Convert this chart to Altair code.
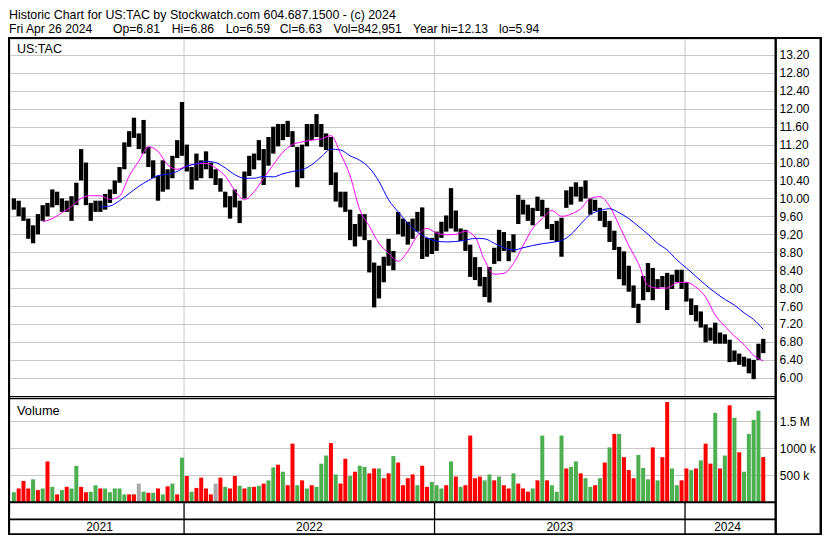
import altair as alt
import pandas as pd

FONT = "Liberation Sans"

HEADER_1 = "Historic Chart for US:TAC by Stockwatch.com 604.687.1500 - (c) 2024"
HEADER_2_ITEMS = ["Fri Apr 26 2024", "Op=6.81", "Hi=6.86", "Lo=6.59",
                  "Cl=6.63", "Vol=842,951", "Year hi=12.13", "lo=5.94"]
SYMBOL = "US:TAC"

# weekly price ranges (week centres, from late April 2021 to 26 April 2024)
week_high = [10.0, 9.95, 9.8, 9.55, 9.4, 9.65, 9.85, 9.9, 10.2, 10.15,
             10.0, 9.95, 10.05, 10.35, 11.1, 10.8, 9.9, 9.95, 9.95, 10.1,
             10.2, 10.4, 10.7, 11.25, 11.5, 11.8, 11.45, 11.75, 11.15, 10.85,
             10.5, 10.85, 10.65, 10.95, 11.3, 12.15, 11.2, 10.7, 11.0, 10.85,
             11.05, 10.8, 10.65, 10.45, 10.15, 10.05, 10.2, 9.95, 10.6, 10.95,
             11.0, 11.3, 11.1, 11.37, 11.6, 11.66, 11.66, 11.73, 11.5, 11.15,
             11.2, 11.66, 11.66, 11.88, 11.66, 11.45, 11.37, 10.58, 10.15, 10.15,
             9.75, 9.43, 9.65, 9.65, 9.07, 8.57, 8.5, 8.7, 9.1, 8.83,
             9.7, 9.55, 9.48, 9.55, 9.7, 9.8, 9.12, 9.12, 9.26, 9.48,
             9.62, 10.23, 9.73, 9.33, 9.3, 8.97, 8.69, 8.47, 8.25, 8.47,
             8.9, 9.3, 9.25, 9.05, 9.2, 10.08, 9.97, 9.86, 9.79, 10.04,
             9.97, 9.79, 9.43, 9.5, 9.57, 10.18, 10.26, 10.36, 10.26, 10.4,
             10.0, 9.97, 9.79, 9.72, 9.5, 9.28, 8.92, 8.82, 8.5, 8.06,
             7.65, 8.27, 8.56, 8.45, 8.2, 8.27, 8.34, 8.3, 8.41, 8.41,
             8.13, 7.77, 7.62, 7.48, 7.19, 7.12, 7.23, 7.01, 6.97, 6.85,
             6.61, 6.54, 6.47, 6.43, 6.4, 6.76, 6.87]
week_low = [9.75, 9.6, 9.5, 9.1, 9.0, 9.2, 9.5, 9.6, 9.8, 9.85,
            9.7, 9.7, 9.5, 9.85, 10.4, 9.85, 9.5, 9.7, 9.7, 9.75,
            9.9, 10.1, 10.35, 10.65, 11.15, 11.35, 11.1, 11.0, 10.7, 10.45,
            9.95, 10.15, 10.2, 10.45, 10.9, 10.95, 10.6, 10.2, 10.4, 10.45,
            10.65, 10.45, 10.3, 10.15, 9.8, 9.55, 9.8, 9.45, 10.0, 10.5,
            10.65, 10.85, 10.3, 10.73, 11.0, 11.16, 11.3, 11.37, 11.15, 10.25,
            10.45, 11.16, 11.3, 11.37, 11.15, 11.08, 10.3, 9.93, 9.8, 9.7,
            9.07, 8.93, 9.15, 9.07, 8.35, 7.57, 7.77, 8.13, 8.5, 8.4,
            9.2, 9.15, 8.97, 9.1, 9.26, 8.65, 8.7, 8.76, 8.83, 9.12,
            9.26, 9.33, 9.26, 9.05, 8.83, 8.25, 8.18, 8.04, 7.8, 7.68,
            8.54, 8.6, 8.83, 8.6, 8.8, 9.43, 9.64, 9.5, 9.4, 9.72,
            9.6, 9.32, 9.07, 9.03, 8.7, 9.79, 9.86, 10.04, 9.93, 10.0,
            9.64, 9.72, 9.5, 9.36, 9.03, 8.85, 8.2, 8.06, 7.92, 7.56,
            7.22, 7.73, 7.91, 7.73, 7.98, 8.02, 7.51, 7.98, 8.13, 7.98,
            7.7, 7.4, 7.26, 7.12, 6.79, 6.83, 6.76, 6.76, 6.76, 6.35,
            6.36, 6.29, 6.25, 6.1, 5.97, 6.4, 6.55]

# moving averages, read every second week
pink_ma = [9.48, 9.55, 9.68, 9.82, 10.0, 10.06, 10.06, 9.98, 10.05, 10.5,
           10.83, 11.15, 11.05, 10.75, 10.65, 10.72, 10.77, 10.78, 10.68, 10.5,
           10.18, 9.97, 10.15, 10.45, 10.75, 11.03, 11.2, 11.26, 11.3, 11.33,
           11.4, 11.0, 10.5, 9.75, 9.38, 9.0, 8.78, 8.6, 8.82, 9.17,
           9.33, 9.23, 9.19, 9.2, 9.27, 9.14, 8.62, 8.31, 8.33, 8.55,
           8.95, 9.33, 9.55, 9.73, 9.6, 9.65, 9.77, 10.0, 10.04, 9.83,
           9.4, 8.95, 8.55, 8.06, 8.0, 8.0, 8.12, 8.13, 8.02, 7.8,
           7.4, 7.15, 6.93, 6.74, 6.5, 6.38]
blue_ma = [9.81, 9.83, 9.95, 10.11, 10.27, 10.4, 10.51, 10.54, 10.6, 10.72,
           10.77, 10.83, 10.8, 10.68, 10.53, 10.45, 10.45, 10.49, 10.48, 10.55,
           10.6, 10.64, 10.75, 10.93, 11.1, 11.08, 10.95, 10.85, 10.68, 10.38,
           9.97, 9.7, 9.45, 9.25, 9.12, 9.05, 9.03, 9.04, 9.07, 9.11,
           9.1, 9.0, 8.9, 8.85, 8.9, 8.95, 8.99, 9.02, 9.06, 9.2,
           9.43, 9.64, 9.73, 9.77, 9.68, 9.55, 9.38, 9.2, 9.0, 8.85,
           8.63, 8.45, 8.26, 8.07, 7.9, 7.75, 7.62, 7.45, 7.3, 7.08]

# volume (millions of shares) and direction: g = up, r = down, n = unchanged
volume_m = [0.19, 0.26, 0.40, 0.26, 0.43, 0.23, 0.26, 0.76, 0.29, 0.15,
            0.23, 0.29, 0.26, 0.68, 0.29, 0.19, 0.20, 0.32, 0.26, 0.26,
            0.19, 0.26, 0.26, 0.15, 0.15, 0.15, 0.35, 0.20, 0.18, 0.18,
            0.26, 0.15, 0.30, 0.35, 0.15, 0.83, 0.49, 0.20, 0.27, 0.46,
            0.26, 0.15, 0.35, 0.46, 0.29, 0.26, 0.49, 0.31, 0.26, 0.29,
            0.29, 0.31, 0.35, 0.41, 0.65, 0.70, 0.57, 0.32, 1.09, 0.32,
            0.41, 0.26, 0.32, 0.29, 0.72, 0.87, 1.10, 0.52, 0.35, 0.81,
            0.49, 0.57, 0.68, 0.66, 0.54, 0.63, 0.63, 0.45, 0.54, 0.86,
            0.74, 0.32, 0.45, 0.52, 0.32, 0.68, 0.29, 0.38, 0.32, 0.26,
            0.32, 0.76, 0.48, 0.29, 0.32, 1.24, 0.45, 0.48, 0.41, 0.52,
            0.41, 0.48, 0.32, 0.26, 0.54, 0.35, 0.26, 0.20, 0.26, 0.41,
            1.24, 0.41, 0.32, 0.20, 1.24, 0.63, 0.66, 0.76, 0.54, 0.45,
            0.29, 0.32, 0.45, 0.74, 1.02, 1.27, 1.27, 0.84, 0.60, 0.45,
            0.88, 0.64, 0.43, 1.02, 0.41, 0.84, 1.86, 0.63, 0.32, 0.41,
            0.63, 0.60, 0.63, 0.78, 1.09, 0.72, 1.66, 0.63, 0.87, 1.80,
            1.57, 0.93, 0.57, 1.27, 1.53, 1.70, 0.84]
volume_dir = ("grrrgrgrgr" "grggrrggrg" "ggggrrngrg" "rgrgrgrgrr" "rrnrgrrgrg"
              "rgrggrgrrg" "rgrgggrgrr" "grggrrgrrg" "rrrrgrrggg" "rgrgrrrrgg"
              "rgrrgrrrgr" "grgggrggrg" "grgrgrgrrr" "gggrgrrggr" "rgrgrrgrgr"
              "grggggr")

price_ticks = [6.0, 6.4, 6.8, 7.2, 7.6, 8.0, 8.4, 8.8, 9.2, 9.6,
               10.0, 10.4, 10.8, 11.2, 11.6, 12.0, 12.4, 12.8, 13.2]
vol_ticks = [0.5, 1.0, 1.5]
vol_tick_labels = ["500 k", "1000 k", "1.5 M"]
years = ["2021", "2022", "2023", "2024"]
year_starts = ["2022-01-01", "2023-01-01", "2024-01-01"]

# ---------------- tables ----------------
weeks = pd.date_range("2021-04-28", periods=len(week_high), freq="7D")
price_df = pd.DataFrame({"date": weeks.strftime("%Y-%m-%d"), "high": week_high, "low": week_low})
pink_df = pd.DataFrame({"date": weeks[6::2].strftime("%Y-%m-%d"), "ma": pink_ma})
blue_df = pd.DataFrame({"date": weeks[18::2].strftime("%Y-%m-%d"), "ma": blue_ma})
dir_name = {"g": "up", "r": "down", "n": "flat"}
vol_df = pd.DataFrame({"date": weeks.strftime("%Y-%m-%d"), "vol": volume_m,
                       "dir": [dir_name[c] for c in volume_dir]})
vtick_df = pd.DataFrame({"v": vol_ticks, "label": vol_tick_labels})

# ---------------- layout (plot area = panels, header outside) ----------------
W, H = 765, 496
PX_PER_DAY = (678.9 - 171.3) / 730.0
t_2022 = pd.Timestamp("2022-01-01")
t_2024 = pd.Timestamp("2024-01-01")
t0 = t_2022 - pd.Timedelta(days=171.3 / PX_PER_DAY)
t1 = t_2024 + pd.Timedelta(days=(W - 678.9) / PX_PER_DAY)
ms = lambda t: int(t.tz_localize("UTC").timestamp() * 1000)
X_SCALE = alt.Scale(type="utc", domain=[ms(t0), ms(t1)], nice=False)

bounds = [t0, pd.Timestamp(year_starts[0]), pd.Timestamp(year_starts[1]),
          pd.Timestamp(year_starts[2]), t1]
year_mid = [(bounds[k] + (bounds[k + 1] - bounds[k]) / 2).strftime("%Y-%m-%dT%H:%M:%S") for k in range(4)]
year_df = pd.DataFrame({"year": years, "mid": year_mid})
ystart_df = pd.DataFrame({"d": year_starts})

P_SCALE = alt.Scale(domain=[5.59, 13.555], range=[357.2, 0], nice=False, zero=False)
V_ZERO_PX, V_PX_PER_M, V_TOP_PX = 463.5, 54.0, 358.8
V_SCALE = alt.Scale(domain=[0, (V_ZERO_PX - V_TOP_PX) / V_PX_PER_M],
                    range=[V_ZERO_PX, V_TOP_PX], nice=False, zero=False)
GRID = "#c8c8c8"

xenc = lambda f: alt.X(f, type="temporal", scale=X_SCALE, axis=None)

# ---------------- price panel ----------------
price_axis = alt.Axis(orient="right", values=price_ticks, format=".2f", grid=True,
                      gridColor=GRID, gridWidth=1, domain=False, ticks=False,
                      labelPadding=4, labelFont=FONT, labelFontSize=12,
                      labelColor="black", labelBaseline="middle", title=None)
bars = alt.Chart(price_df).mark_bar(color="black", size=4.3, clip=True).encode(
    x=xenc("date"), y=alt.Y("low:Q", scale=P_SCALE, axis=price_axis), y2="high:Q")
pink = alt.Chart(pink_df).mark_line(color="#ff00ff", strokeWidth=1, interpolate="monotone").encode(
    x=xenc("date"), y=alt.Y("ma:Q", scale=P_SCALE, axis=price_axis))
blue = alt.Chart(blue_df).mark_line(color="#0000ff", strokeWidth=1, interpolate="monotone").encode(
    x=xenc("date"), y=alt.Y("ma:Q", scale=P_SCALE, axis=price_axis))
price_panel = alt.layer(bars, pink, blue)

# ---------------- volume panel ----------------
vbars = alt.Chart(vol_df).mark_bar(size=4.0, clip=True).encode(
    x=xenc("date"),
    y=alt.Y("vol:Q", scale=V_SCALE, axis=None),
    color=alt.Color("dir:N", scale=alt.Scale(domain=["up", "down", "flat"],
                                             range=["#4caf50", "#ff0000", "#a8a8a8"]), legend=None))
vlabels = alt.Chart(vtick_df).mark_text(align="left", baseline="middle", font=FONT,
                                        fontSize=12, color="black").encode(
    x=alt.value(769.8), y=alt.Y("v:Q", scale=V_SCALE, axis=None), text="label:N")
volume_panel = alt.layer(vbars, vlabels)

# ---------------- decorations ----------------
one = pd.DataFrame({"k": [0]})


def hline(y, x1, x2, w, color="black"):
    return alt.Chart(one).mark_rule(color=color, strokeWidth=w).encode(
        x=alt.value(x1), x2=alt.value(x2), y=alt.value(y))


def vline(x, y1, y2, w, color="black"):
    return alt.Chart(one).mark_rule(color=color, strokeWidth=w).encode(
        x=alt.value(x), y=alt.value(y1), y2=alt.value(y2))


# volume grid lines at the volume tick levels (same mapping as V_SCALE)
vol_grid = [hline(V_ZERO_PX - v * V_PX_PER_M, 0, W, 1, GRID) for v in vol_ticks]

year_grid = alt.Chart(ystart_df).mark_rule(color=GRID, strokeWidth=1).encode(
    x=xenc("d"), y=alt.value(0), y2=alt.value(463))
year_sep = alt.Chart(ystart_df).mark_rule(color="black", strokeWidth=1.3).encode(
    x=xenc("d"), y=alt.value(463), y2=alt.value(495))
year_text = alt.Chart(year_df).mark_text(align="center", baseline="alphabetic", font=FONT,
                                         fontSize=12, color="black").encode(
    x=xenc("mid"), y=alt.value(492.4), text="year:N")


def label(txt, x, y, size):
    return alt.Chart(pd.DataFrame({"t": [txt]})).mark_text(
        align="left", baseline="alphabetic", font=FONT, fontSize=size, color="black").encode(
        x=alt.value(x), y=alt.value(y), text="t:N")


header2_x = [-1, 102.9, 161.8, 215.7, 269.7, 323.6, 403, 489]
header2 = [label(t, x, -6.3, 12.2) for t, x in zip(HEADER_2_ITEMS, header2_x)]

decor = [
    hline(-1.0, -2, 812, 2.2),
    vline(-1.0, -1, 496, 2),
    vline(810.8, -1, 496, 2.5),
    hline(495.2, -2, 812, 2),
    vline(765.7, 0, 496, 2.4),
    hline(357.6, 0, 766, 1.2),
    hline(359.6, 0, 766, 1.2),
    hline(463.3, 0, 766, 2),
    hline(480.3, 0, 766, 1.7),
    year_sep,
    year_text,
    label(HEADER_1, -1, -20.3, 12.4),
    *header2,
    label(SYMBOL, 7, 13.6, 12.5),
    label("Volume", 7, 375.8, 12.8),
]

chart = alt.layer(year_grid, *vol_grid, price_panel, volume_panel, *decor).resolve_scale(
    y="independent").properties(
    width=W, height=H,
    autosize=alt.AutoSizeParams(type="none"),
    padding={"left": 2, "top": 31, "right": 47, "bottom": 0},
).configure_view(stroke=None).configure(font=FONT, background="white")

chart.save("out.html", embed_options={"renderer": "svg", "actions": False})
